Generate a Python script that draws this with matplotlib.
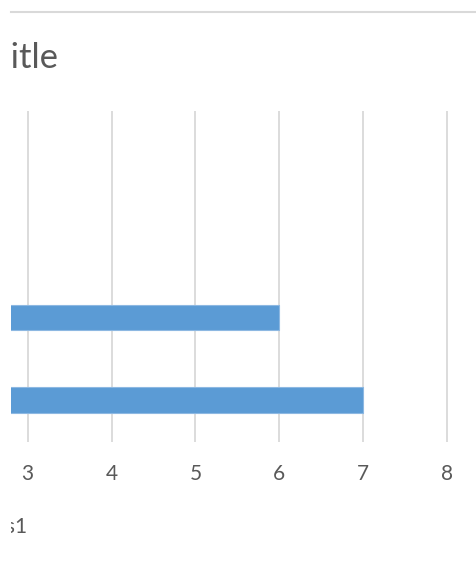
import matplotlib.pyplot as plt
from matplotlib.lines import Line2D
from matplotlib.transforms import Bbox, TransformedBbox

# data
categories = ["1", "2", "3", "4"]
values = [7, 6, None, None]
x_ticks = [3, 4, 5, 6, 7, 8]
title = "Chart Title"
series_name = "Series1"

plt.rcParams['font.family'] = ['Lato', 'DejaVu Sans']

W, H = 477, 561
fig = plt.figure(figsize=(W / 100, H / 100), dpi=100)

# plot area (left part of the chart is cut off in the reference)
ax = fig.add_axes([11 / W, 1 - 441.7 / H, 1 - 11 / W, (441.7 - 110.7) / H])

pos = list(range(len(categories)))
vals = [v if v is not None else 0 for v in values]
ax.barh(pos, vals, height=0.31, color='#5B9BD5', edgecolor='#8DB8E2',
        linewidth=0.8, zorder=3)

ax.set_xlim(3 - 16.7 / 83.86, 8 + 30 / 83.86)
ax.set_ylim(-0.5, len(categories) - 0.5)
ax.set_xticks(x_ticks)
ax.set_xticklabels([str(t) for t in x_ticks])
ax.set_yticks([])
ax.grid(axis='x', color='#D9D9D9', linewidth=1.3, zorder=0)
ax.tick_params(axis='x', length=0, pad=16, labelsize=15, labelcolor='#595959')
for s in ax.spines.values():
    s.set_visible(False)

# everything left of x=11px is outside the visible chart
clip = TransformedBbox(Bbox([[11 / W, 0], [1, 1]]), fig.transFigure)

# chart title: place it so that "itle" starts at the visible edge
renderer = fig.canvas.get_renderer()
probe = fig.text(0, 0, "Chart T", fontsize=25)
lead = probe.get_window_extent(renderer).width
probe.remove()
t1 = fig.text((11 - lead) / W, 1 - 68 / H, title, ha='left', va='baseline',
              fontsize=25, color='#595959')
t1.set_clip_box(clip)
t1.set_clip_on(True)

# legend text (also cut off)
t2 = fig.text(27 / W, 1 - 533 / H, series_name, ha='right', va='baseline',
              fontsize=15, color='#595959')
t2.set_clip_box(clip)
t2.set_clip_on(True)

# top border of the chart area
fig.add_artist(Line2D([11 / W, 1], [1 - 12 / H, 1 - 12 / H],
                      transform=fig.transFigure, color='#D9D9D9', linewidth=1.5))

fig.savefig("out.png", dpi=100)
